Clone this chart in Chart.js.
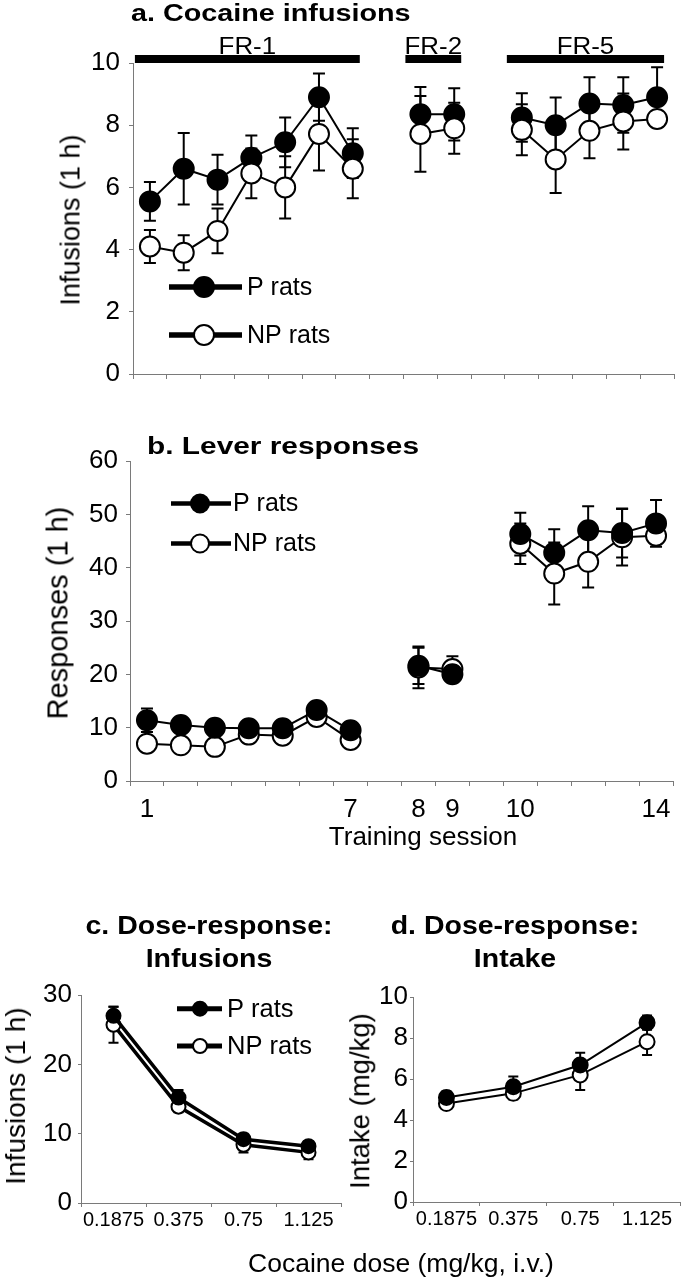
<!DOCTYPE html>
<html><head><meta charset="utf-8">
<script src="https://cdn.jsdelivr.net/npm/chart.js@4.4.1/dist/chart.umd.min.js"></script>
<style>
html,body{margin:0;padding:0;background:#fff;}
body{width:690px;height:1280px;position:relative;overflow:hidden;font-family:'Liberation Sans',Arial,sans-serif;color:#000;}
canvas{position:absolute;}
.t{position:absolute;white-space:nowrap;line-height:1;}
.b{font-weight:bold;}
</style></head><body>
<canvas id="ca" width="690" height="400" style="left:0;top:0;width:690px;height:400px"></canvas>
<canvas id="cb" width="690" height="460" style="left:0;top:400px;width:690px;height:460px"></canvas>
<canvas id="cc" width="350" height="420" style="left:0;top:860px;width:350px;height:420px"></canvas>
<canvas id="cd" width="345" height="420" style="left:345px;top:860px;width:345px;height:420px"></canvas>

<div class="t b" style="left:131px;top:1.5px;font-size:23px;transform-origin:left center;transform:scaleX(1.25)">a. Cocaine infusions</div>
<div class="t b" style="left:147px;top:435px;font-size:23.5px;transform-origin:left center;transform:scaleX(1.27)">b. Lever responses</div>
<div class="t b" style="left:209px;top:912.5px;font-size:25px;transform:translateX(-50%) scaleX(1.14)">c. Dose-response:</div>
<div class="t b" style="left:209px;top:946px;font-size:25px;transform:translateX(-50%) scaleX(1.14)">Infusions</div>
<div class="t b" style="left:515px;top:912.5px;font-size:25px;transform:translateX(-50%) scaleX(1.14)">d. Dose-response:</div>
<div class="t b" style="left:515px;top:946px;font-size:25px;transform:translateX(-50%) scaleX(1.14)">Intake</div>

<div class="t" style="left:71px;top:220px;font-size:27px;transform:translate(-50%,-50%) rotate(-90deg)">Infusions (1 h)</div>
<div class="t" style="left:58px;top:613px;font-size:29px;transform:translate(-50%,-50%) rotate(-90deg)">Responses (1 h)</div>
<div class="t" style="left:16px;top:1096px;font-size:28px;transform:translate(-50%,-50%) rotate(-90deg)">Infusions (1 h)</div>
<div class="t" style="left:360px;top:1101px;font-size:27.5px;transform:translate(-50%,-50%) rotate(-90deg)">Intake (mg/kg)</div>
<div class="t" style="left:423px;top:822.5px;font-size:26px;transform:translateX(-50%)">Training session</div>
<div class="t" style="left:401px;top:1250px;font-size:26.5px;transform:translateX(-50%)">Cocaine dose (mg/kg, i.v.)</div>

<script>
// ---------- DATA ----------
const sessionSlots = ['1','2','3','4','5','6','7','gap1','8','9','gap2','10','11','12','13','14'];
const sessionTickLabels = ['1','','','','','','7','','8','9','','10','','','','14'];
const phaseOfSlot = ['FR-1','FR-1','FR-1','FR-1','FR-1','FR-1','FR-1',null,'FR-2','FR-2',null,'FR-5','FR-5','FR-5','FR-5','FR-5'];

const infusionTicks = [0,2,4,6,8,10];
const infusionsP     = [5.55,6.6,6.25,6.95,7.45,8.9,7.1,null,8.35,8.35,null,8.25,8.0,8.7,8.65,8.9];
const infusionsPErr  = [0.62,1.15,0.8,0.72,0.8,0.76,0.8,null,0.88,0.84,null,0.78,0.89,0.84,0.89,0.96];
const infusionsNP    = [4.1,3.9,4.6,6.45,6.0,7.72,6.6,null,7.72,7.9,null,7.85,6.9,7.82,8.12,8.2];
const infusionsNPErr = [0.53,0.56,0.72,0.8,1.0,1.18,0.95,null,1.22,0.82,null,0.82,1.08,0.88,0.9,0.25];

const responseTicks = [0,10,20,30,40,50,60];
const responsesP     = [11.4,10.5,10.0,9.9,9.9,13.3,9.5,null,21.6,20.0,null,46.3,42.8,47.0,46.5,48.3];
const responsesPErr  = [2.2,1.0,1.0,0.8,0.8,1.2,0.8,null,3.4,1.0,null,4.0,4.4,4.5,4.6,4.4];
const responsesNP    = [7.0,6.7,6.4,8.7,8.5,12.0,7.7,null,21.3,21.0,null,44.5,38.9,41.1,45.7,46.0];
const responsesNPErr = [1.0,1.0,1.0,0.8,0.8,1.0,0.8,null,3.9,2.4,null,3.8,5.8,4.8,5.3,1.0];

const doses = ['0.1875','0.375','0.75','1.125'];
const doseInfTicks = [0,10,20,30];
const doseInfP     = [27.0,15.2,9.2,8.2];
const doseInfPErr  = [1.3,1.1,0.8,0.7];
const doseInfNP    = [25.7,13.9,8.4,7.3];
const doseInfNPErr = [2.6,0.8,1.1,1.0];

const intakeTicks = [0,2,4,6,8,10];
const intakeP     = [5.1,5.62,6.68,8.75];
const intakePErr  = [0.3,0.5,0.6,0.35];
const intakeNP    = [4.8,5.3,6.2,7.82];
const intakeNPErr = [0.25,0.3,0.74,0.65];

// ---------- HELPERS ----------
const FONT = "'Liberation Sans', Arial, sans-serif";
const AXIS = '#7a7a7a';

const errorBarPlugin = {
  id: 'errorBars',
  beforeDatasetsDraw(chart, args, opts) {
    const ctx = chart.ctx, ys = chart.scales.y, cap = opts.cap || 6;
    chart.data.datasets.forEach((ds, di) => {
      if (!ds.errors) return;
      const meta = chart.getDatasetMeta(di);
      ctx.save();
      ctx.strokeStyle = '#000';
      ctx.lineWidth = opts.lineWidth || 2;
      meta.data.forEach((pt, i) => {
        const v = ds.data[i], e = ds.errors[i];
        if (v == null || e == null) return;
        const x = pt.x, yt = ys.getPixelForValue(v + e), yb = ys.getPixelForValue(v - e);
        ctx.beginPath();
        ctx.moveTo(x, yt); ctx.lineTo(x, yb);
        ctx.moveTo(x - cap, yt); ctx.lineTo(x + cap, yt);
        ctx.moveTo(x - cap, yb); ctx.lineTo(x + cap, yb);
        ctx.stroke();
      });
      ctx.restore();
    });
  }
};

const inLegendPlugin = {
  id: 'inLegend',
  afterDraw(chart, args, o) {
    if (!o || !o.x0) return;
    const ctx = chart.ctx;
    chart.data.datasets.forEach((ds, k) => {
      const yy = o.y + k * o.dy;
      ctx.save();
      ctx.strokeStyle = '#000';
      ctx.lineWidth = o.lineWidth;
      ctx.beginPath(); ctx.moveTo(o.x0, yy); ctx.lineTo(o.x1, yy); ctx.stroke();
      ctx.beginPath(); ctx.arc(o.mx, yy, o.r, 0, Math.PI * 2);
      ctx.fillStyle = ds.pointBackgroundColor; ctx.fill();
      ctx.lineWidth = 2; ctx.stroke();
      ctx.fillStyle = '#000';
      ctx.font = o.font;
      ctx.textBaseline = 'middle'; ctx.textAlign = 'left';
      ctx.fillText(ds.label, o.tx, yy + 1);
      ctx.restore();
    });
  }
};

const phaseBarPlugin = {
  id: 'phaseBars',
  afterDraw(chart, args, o) {
    if (!o || !o.phases) return;
    const ctx = chart.ctx, xs = chart.scales.x, top = chart.chartArea.top;
    const groups = [];
    o.phases.forEach((p, i) => {
      if (!p) return;
      const g = groups[groups.length - 1];
      if (g && g.label === p && g.to === i - 1) g.to = i; else groups.push({label: p, from: i, to: i});
    });
    groups.forEach(g => {
      const x0 = xs.getPixelForValue(g.from) - 15, x1 = xs.getPixelForValue(g.to) + 7;
      ctx.save();
      ctx.fillStyle = '#000';
      ctx.fillRect(x0, top - 8, x1 - x0, 8);
      ctx.translate((x0 + x1) / 2, top - 9);
      ctx.scale(1.08, 1);
      ctx.font = '24px ' + FONT;
      ctx.textAlign = 'center'; ctx.textBaseline = 'alphabetic';
      ctx.fillText(g.label, 0, 0);
      ctx.restore();
    });
  }
};

function yScale(ticksArr, width, tl, pad, size) {
  return {
    min: ticksArr[0], max: ticksArr[ticksArr.length - 1],
    afterBuildTicks: s => { s.ticks = ticksArr.map(v => ({value: v})); },
    afterFit: s => { s.width = width; },
    ticks: {color: '#000', padding: pad, autoSkip: false, font: {family: FONT, size: size}},
    grid: {drawOnChartArea: false, drawTicks: true, tickLength: tl, color: AXIS},
    border: {display: true, color: AXIS, width: 1}
  };
}
function xScale(height, show, tl, pad, size, tickLabels) {
  return {
    type: 'category', offset: true,
    afterFit: s => { s.height = height; },
    ticks: {display: show, autoSkip: false, maxRotation: 0, minRotation: 0, padding: pad, color: '#000',
            font: {family: FONT, size: size}, callback: (v, i) => tickLabels[i]},
    grid: {offset: true, drawOnChartArea: false, drawTicks: true, tickLength: tl, color: AXIS},
    border: {display: true, color: AXIS, width: 1}
  };
}
function series(label, data, errors, filled, bw, r, order) {
  return {
    label, data, errors, order,
    borderColor: '#000', borderWidth: bw, backgroundColor: filled ? '#000' : '#fff',
    pointBackgroundColor: filled ? '#000' : '#fff', pointBorderColor: '#000',
    pointBorderWidth: 2, pointRadius: r, pointHoverRadius: r,
    spanGaps: false, tension: 0, clip: false, fill: false
  };
}
function makeChart(id, labels, datasets, scales, padding, plugins) {
  return new Chart(document.getElementById(id), {
    type: 'line',
    data: {labels, datasets},
    options: {
      responsive: false, animation: false, events: [],
      layout: {padding},
      scales,
      plugins: Object.assign({legend: {display: false}, title: {display: false}, tooltip: {enabled: false}}, plugins)
    },
    plugins: [errorBarPlugin, inLegendPlugin, phaseBarPlugin]
  });
}

// ---------- PANEL A ----------
makeChart('ca', sessionSlots, [
  series('P rats', infusionsP, infusionsPErr, true, 2, 10, 1),
  series('NP rats', infusionsNP, infusionsNPErr, false, 2, 10, 0)
], {
  x: xScale(26, false, 5, 0, 10, sessionTickLabels),
  y: yScale(infusionTicks, 133, 4, 9, 26)
}, {left: 0, right: 16, top: 63, bottom: 0}, {
  errorBars: {cap: 6, lineWidth: 2},
  inLegend: {x0: 169, x1: 242, mx: 204, r: 10, y: 287, dy: 48, tx: 247, font: '25px ' + FONT, lineWidth: 5.5},
  phaseBars: {phases: phaseOfSlot}
});

// ---------- PANEL B ----------
makeChart('cb', sessionSlots, [
  series('P rats', responsesP, responsesPErr, true, 2, 10, 0),
  series('NP rats', responsesNP, responsesNPErr, false, 2, 10, 1)
], {
  x: xScale(79, true, 5, 8, 26, sessionTickLabels),
  y: yScale(responseTicks, 130, 4, 8, 26)
}, {left: 0, right: 17, top: 61, bottom: 0}, {
  errorBars: {cap: 6, lineWidth: 2},
  inLegend: {x0: 171, x1: 231, mx: 200, r: 9, y: 103.5, dy: 40, tx: 233, font: '25px ' + FONT, lineWidth: 4.5}
});

// ---------- PANEL C ----------
makeChart('cc', doses, [
  series('P rats', doseInfP, doseInfPErr, true, 3.5, 7, 0),
  series('NP rats', doseInfNP, doseInfNPErr, false, 3.5, 7, 1)
], {
  x: xScale(77, true, 4, 1, 20, doses),
  y: yScale(doseInfTicks, 81, 3, 6, 26)
}, {left: 0, right: 5, top: 135, bottom: 0}, {
  errorBars: {cap: 5, lineWidth: 2},
  inLegend: {x0: 177, x1: 222, mx: 200, r: 7, y: 148.7, dy: 37.3, tx: 227, font: '25.5px ' + FONT, lineWidth: 5}
});

// ---------- PANEL D ----------
makeChart('cd', doses, [
  series('P rats', intakeP, intakePErr, true, 2, 7.5, 0),
  series('NP rats', intakeNP, intakeNPErr, false, 2, 7.5, 1)
], {
  x: xScale(78, true, 4, 1, 20, doses),
  y: yScale(intakeTicks, 68, 3, 2, 26)
}, {left: 0, right: 1, top: 137, bottom: 0}, {
  errorBars: {cap: 5, lineWidth: 2}
});
</script>
</body></html>
